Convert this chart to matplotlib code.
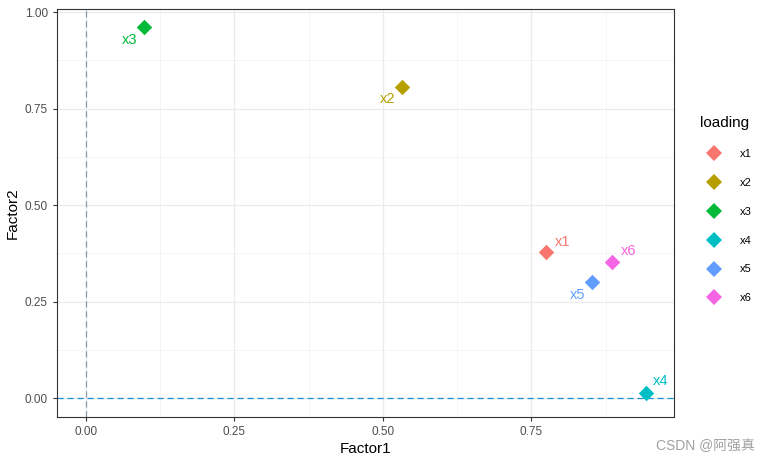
import matplotlib
matplotlib.use("Agg")
import matplotlib.pyplot as plt
from matplotlib.lines import Line2D

plt.rcParams['font.family'] = ['Liberation Sans', 'Noto Sans CJK SC', 'DejaVu Sans']

# factor loadings
variables = ['x1', 'x2', 'x3', 'x4', 'x5', 'x6']
factor1 = [0.774, 0.532, 0.098, 0.943, 0.852, 0.886]
factor2 = [0.378, 0.806, 0.961, 0.013, 0.300, 0.352]
colors = ['#F8766D', '#B79F00', '#00BA38', '#00BFC4', '#619CFF', '#F564E3']
# label offsets (points), mimicking ggrepel placement
label_dx = [6.5, -5, -5, 4.5, -5, 6.5]
label_dy = [7.5, -8.5, -9, 9, -9, 8]

fig = plt.figure(figsize=(7.7, 4.63), dpi=100)
ax = fig.add_axes([57 / 770, 1 - 417 / 463, (674 - 57) / 770, (417 - 9) / 463])

ax.set_xlim(-0.0488, 0.99)
ax.set_ylim(-0.049, 1.0078)
ticks = [0, 0.25, 0.5, 0.75]
ax.set_xticks(ticks)
ax.set_xticklabels(['0.00', '0.25', '0.50', '0.75'])
ax.set_yticks([0, 0.25, 0.5, 0.75, 1.0])
ax.set_yticklabels(['0.00', '0.25', '0.50', '0.75', '1.00'])
ax.set_xticks([0.125, 0.375, 0.625, 0.875], minor=True)
ax.set_yticks([0.125, 0.375, 0.625, 0.875], minor=True)
ax.grid(True, which='major', color='#EBEBEB', linewidth=0.9)
ax.grid(True, which='minor', color='#F2F2F2', linewidth=0.5)
ax.set_axisbelow(True)
ax.tick_params(which='minor', length=0)
ax.tick_params(which='major', length=3, color='#333333', labelsize=8.5, labelcolor='#4D4D4D')
for s in ax.spines.values():
    s.set_color('#333333')
    s.set_linewidth(0.8)

ax.axhline(0, color='#1E90D8', linestyle=(0, (5, 3)), linewidth=0.9, zorder=1)
ax.axvline(0, color='#8A9AA8', linestyle=(0, (5, 3)), linewidth=0.9, zorder=1)

for i, v in enumerate(variables):
    ax.scatter(factor1[i], factor2[i], marker='D', s=62, color=colors[i], zorder=3, linewidths=0)
    ha = 'left' if label_dx[i] > 0 else 'right'
    ax.annotate(v, (factor1[i], factor2[i]), xytext=(label_dx[i], label_dy[i]),
                textcoords='offset points', color=colors[i], fontsize=10.5, ha=ha, va='center')

ax.set_xlabel('Factor1', fontsize=11, labelpad=3)
ax.set_ylabel('Factor2', fontsize=11, labelpad=4)

handles = [Line2D([], [], marker='D', linestyle='', markersize=8.5, color=c, markeredgewidth=0) for c in colors]
fig.legend(handles, variables, title='loading', loc='upper left', bbox_to_anchor=(690 / 770, 1 - 106 / 463),
           frameon=False, fontsize=8, title_fontsize=11, labelspacing=1.7, handlelength=2.6,
           handletextpad=1.0, alignment='left')

fig.text(755 / 770, 1 - 446 / 463, 'CSDN @阿强真', ha='right', va='center', fontsize=10, color='#A0A0A0')

fig.savefig('out.png', dpi=100)
